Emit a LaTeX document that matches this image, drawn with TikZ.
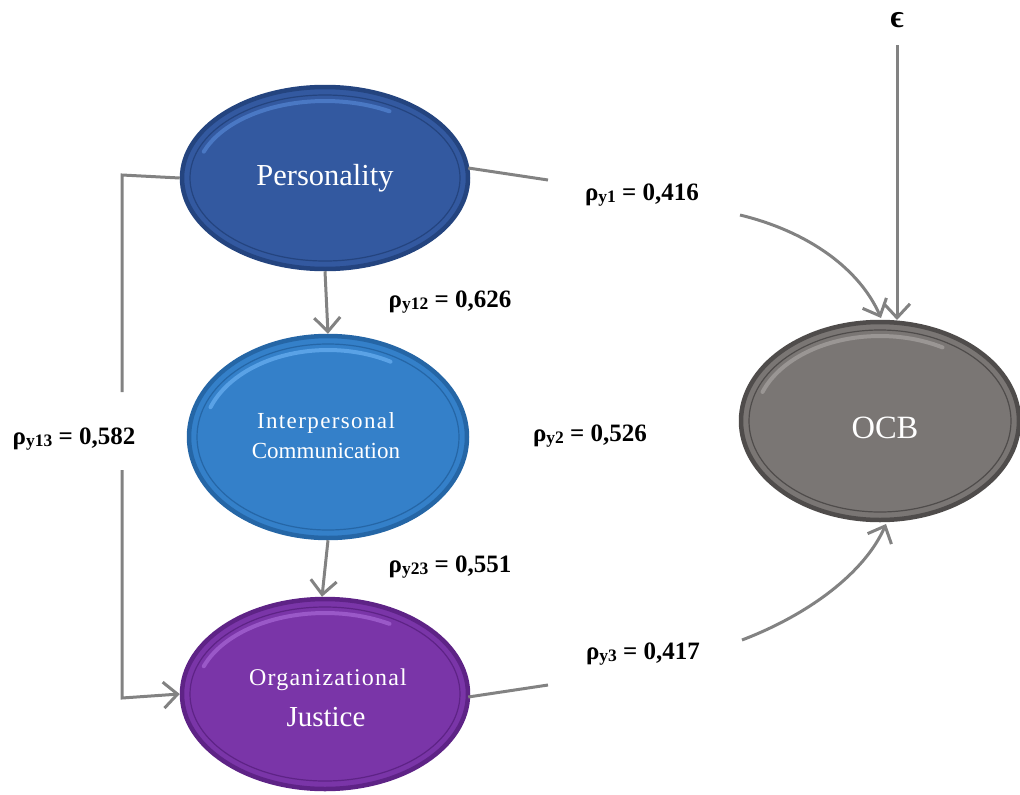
\documentclass[tikz,border=0pt]{standalone}
\usepackage{fontspec}
\setmainfont{Liberation Serif}
\usetikzlibrary{arrows.meta,shapes.geometric}
\definecolor{persC}{HTML}{3359A0}
\definecolor{persR}{HTML}{24447F}
\definecolor{persL}{HTML}{4A78C4}
\definecolor{commC}{HTML}{3480C9}
\definecolor{commR}{HTML}{2566A6}
\definecolor{commL}{HTML}{5AA2E6}
\definecolor{justC}{HTML}{7A35A8}
\definecolor{justR}{HTML}{5E2386}
\definecolor{justL}{HTML}{9A58C8}
\definecolor{ocbC}{HTML}{7A7674}
\definecolor{ocbR}{HTML}{4F4C4B}
\definecolor{ocbL}{HTML}{9A9694}
\definecolor{conn}{HTML}{828282}
\tikzset{
  blob/.style={ellipse, draw=#1, line width=4.5pt, text=white, inner sep=0pt, align=center},
  wire/.style={draw=conn, line width=3pt},
  arr/.style={wire, -{Straight Barb[length=14pt,width=26pt,line width=3pt]}},
  coef/.style={font=\bfseries\fontsize{25}{27}\selectfont, inner sep=1pt}
}
\newcommand{\rs}[1]{\raisebox{-2.5pt}{\fontsize{17.5}{17.5}\selectfont #1}}
\begin{document}
\begin{tikzpicture}[x=1pt,y=-1pt]
\useasboundingbox (0,0) rectangle (1020,795);
% ellipses
\node[blob=persR, fill=persC, minimum width=286pt, minimum height=182pt] (P) at (325,178) {};
\node[blob=commR, fill=commC, minimum width=278pt, minimum height=202pt] (C) at (328,437) {};
\node[blob=justR, fill=justC, minimum width=286pt, minimum height=190pt] (J) at (325,694) {};
\node[blob=ocbR, fill=ocbC, minimum width=278pt, minimum height=198pt] (O) at (880,421) {};
% bevel: inner dark line and top highlight
\foreach \n/\w/\h/\r/\l in {P/286/182/persR/persL,C/278/202/commR/commL,J/286/190/justR/justL,O/278/198/ocbR/ocbL}{
  \draw[\r, line width=1.2pt] (\n.center) ellipse [x radius=\w/2-8, y radius=\h/2-8];
  \draw[\l, line width=4pt, line cap=round] (\n.center) ++(200:{\w/2-14} and {\h/2-14}) arc [start angle=200, end angle=300, x radius=\w/2-14, y radius=\h/2-14];
}
% texts
\node[text=white, font=\fontsize{30.5}{32}\selectfont] (Pt) at (325,178) {Personality};
\node[text=white, font=\fontsize{23}{30}\selectfont, align=center] (Ct) at (326,436) {\addfontfeature{LetterSpace=6}Interpersonal\\Communication};
\node[text=white, font=\fontsize{24}{24}\selectfont] (Jt1) at (328,680) {\addfontfeature{LetterSpace=5}Organizational};
\node[text=white, font=\fontsize{29}{29}\selectfont] (Jt2) at (326,717) {Justice};
\node[text=white, font=\fontsize{32.5}{33}\selectfont] (Ot) at (885,428) {OCB};
% epsilon
\node[font=\bfseries\fontsize{32}{32}\selectfont] (eps) at (897,20) {ϵ};
% labels
\node[coef] (l1) at (642,195) {ρ\rs{y1} = 0,416};
\node[coef] (l12) at (450,302) {ρ\rs{y12} = 0,626};
\node[coef] (l2) at (590,436) {ρ\rs{y2} = 0,526};
\node[coef] (l13) at (74,439) {ρ\rs{y13} = 0,582};
\node[coef] (l23) at (450,567) {ρ\rs{y23} = 0,551};
\node[coef] (l3) at (643,654) {ρ\rs{y3} = 0,417};
% coordinates
\coordinate (p1a) at (548,180);
\coordinate (p1b) at (740,215);
\coordinate (j1a) at (548,685);
\coordinate (j1b) at (742,640);
\coordinate (b1) at (122,175);
\coordinate (b2) at (122,392);
\coordinate (b3) at (122,470);
\coordinate (b4) at (122,698);
\coordinate (e1) at (897,45);
% connectors
\draw[arr] (P.south) -- (C.north);
\draw[arr] (C.south) -- ([xshift=-3pt]J.north);
\draw[wire] (P.west) -- (b1) -- (b2);
\draw[arr] (b3) -- (b4) -- (J.west);
\draw[wire] (P.east) ++(-2,-10) -- (p1a);
\draw[arr] (p1b) .. controls (810,232) and (860,270) .. (881,318);
\draw[arr] (e1) -- (897,320);
\draw[wire] (J.east) ++(-2,3) -- (j1a);
\draw[arr] (j1b) .. controls (810,614) and (865,572) .. (886,524);
\end{tikzpicture}
\end{document}
